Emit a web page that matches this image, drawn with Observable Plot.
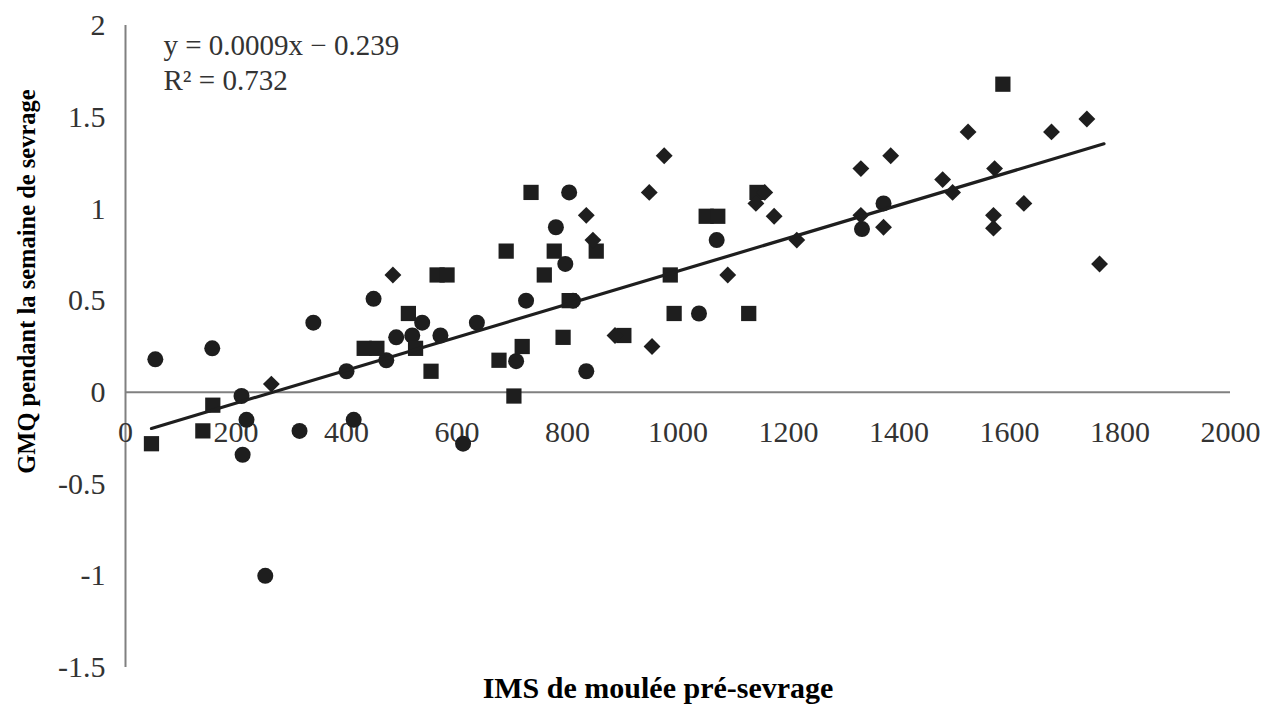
<!DOCTYPE html>
<html>
<head>
<meta charset="utf-8">
<script src="https://cdn.jsdelivr.net/npm/d3@7"></script>
<script src="https://cdn.jsdelivr.net/npm/@observablehq/plot@0.6"></script>
<style>
  html, body { margin: 0; padding: 0; background: #fff; }
  #chart svg { display: block; }
</style>
</head>
<body>
<div id="chart"></div>
<script>
// Series
const circlesX = [54, 157, 210, 219, 212, 253, 315, 340, 400, 413, 449, 472, 490, 519, 537, 570, 725, 636, 707, 834, 611, 796, 810, 779, 803, 1070, 1038, 1333, 1372];
const circlesY = [0.18, 0.24, -0.02, -0.15, -0.34, -1.0, -0.21, 0.38, 0.115, -0.15, 0.51, 0.175, 0.30, 0.31, 0.38, 0.31, 0.50, 0.38, 0.17, 0.115, -0.28, 0.70, 0.50, 0.90, 1.09, 0.83, 0.43, 0.89, 1.03];

const squaresX = [47, 140, 158, 432, 455, 512, 525, 553, 564, 582, 676, 718, 703, 689, 776, 758, 792, 803, 852, 734, 986, 993, 1128, 1051, 1072, 902, 1143, 1588];
const squaresY = [-0.28, -0.21, -0.07, 0.24, 0.24, 0.43, 0.24, 0.115, 0.64, 0.64, 0.175, 0.25, -0.02, 0.77, 0.77, 0.64, 0.30, 0.50, 0.77, 1.09, 0.64, 0.43, 0.43, 0.96, 0.96, 0.31, 1.09, 1.68];

const diamondsX = [264, 484, 846, 886, 834, 948, 953, 975, 1090, 1141, 1157, 1174, 1215, 1331, 1331, 1372, 1385, 1479, 1497, 1525, 1573, 1571, 1571, 1626, 1676, 1740, 1763];
const diamondsY = [0.045, 0.64, 0.83, 0.31, 0.965, 1.09, 0.25, 1.29, 0.64, 1.03, 1.09, 0.96, 0.83, 1.22, 0.965, 0.90, 1.29, 1.16, 1.09, 1.42, 1.22, 0.965, 0.895, 1.03, 1.42, 1.49, 0.70];

// Regression shown on the chart
const slope = 0.0009;
const intercept = -0.239;
const equationLines = ["y = 0.0009x \u2212 0.239", "R\u00b2 = 0.732"];

// Tick labels
const xTicks = [0, 200, 400, 600, 800, 1000, 1200, 1400, 1600, 1800, 2000];
const yTicks = [2, 1.5, 1, 0.5, 0, -0.5, -1, -1.5];

const xTitle = "IMS de moulée pré-sevrage";
const yTitle = "GMQ pendant la semaine de sevrage";

const toRows = (xs, ys) => xs.map((x, i) => ({x, y: ys[i]}));
const circles = toRows(circlesX, circlesY);
const squares = toRows(squaresX, squaresY);
const diamonds = toRows(diamondsX, diamondsY);

const allX = [...circlesX, ...squaresX, ...diamondsX];
const trend = [d3.min(allX), d3.max(allX) + 8].map(x => ({x, y: slope * x + intercept}));

const ink = "#1e1e1e";
const axisGray = "#808080";
const serif = "'Liberation Serif', 'Times New Roman', serif";

const chart = Plot.plot({
  width: 1270,
  height: 708,
  marginLeft: 125,
  marginRight: 40,
  marginTop: 25,
  marginBottom: 41,
  style: {fontFamily: serif, background: "#fff"},
  x: {domain: [0, 2000], axis: null},
  y: {domain: [-1.5, 2], axis: null},
  marks: [
    Plot.ruleX([0], {stroke: axisGray, strokeWidth: 2}),
    Plot.ruleY([0], {stroke: axisGray, strokeWidth: 2}),
    Plot.text(yTicks, {x: 0, y: d => d, text: d => String(d), textAnchor: "end", dx: -20, fontSize: 30, fill: "#333"}),
    Plot.text(xTicks, {x: d => d, y: 0, text: d => String(d), dy: 40, fontSize: 30, fill: "#333"}),
    Plot.dot(circles, {x: "x", y: "y", symbol: "circle", r: 8, fill: ink, stroke: "none"}),
    Plot.dot(squares, {x: "x", y: "y", symbol: "square", r: 8.6, fill: ink, stroke: "none"}),
    Plot.dot(diamonds, {x: "x", y: "y", symbol: "diamond2", r: 7.6, fill: ink, stroke: "none"}),
    Plot.line(trend, {x: "x", y: "y", stroke: ink, strokeWidth: 3.2}),
    Plot.text([equationLines.join("\n")], {frameAnchor: "top-left", dx: 38, dy: 5, textAnchor: "start", lineAnchor: "top", lineHeight: 1.2, fontSize: 29, fill: "#333", text: d => d}),
    Plot.text([xTitle], {frameAnchor: "bottom", dx: -20, dy: 30, lineAnchor: "bottom", fontSize: 30, fontWeight: "bold", fill: "#000", text: d => d}),
    Plot.text([yTitle], {frameAnchor: "left", dx: -98, dy: -65, rotate: -90, textAnchor: "middle", lineAnchor: "middle", fontSize: 24.5, fontWeight: "bold", fill: "#000", text: d => d})
  ]
});

document.getElementById("chart").appendChild(chart);
</script>
</body>
</html>
